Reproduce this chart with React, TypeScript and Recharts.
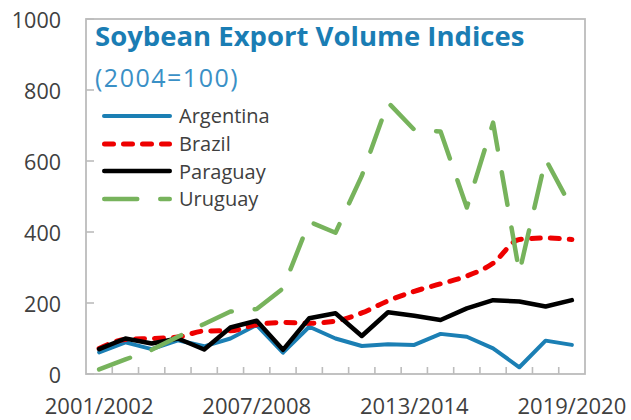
import { LineChart, Line, XAxis, YAxis } from "recharts";

const seasons = [
  "2001/2002", "2002/2003", "2003/2004", "2004/2005", "2005/2006", "2006/2007",
  "2007/2008", "2008/2009", "2009/2010", "2010/2011", "2011/2012", "2012/2013",
  "2013/2014", "2014/2015", "2015/2016", "2016/2017", "2017/2018", "2018/2019",
  "2019/2020",
];
const argentina = [61, 89, 70, 95, 78, 100, 138, 60, 133, 100, 79, 84, 82, 113, 105, 72, 19, 94, 82];
const brazil = [72, 97, 100, 104, 121, 122, 139, 145, 143, 149, 172, 206, 233, 254, 276, 312, 379, 383, 379];
const paraguay = [70, 100, 86, 100, 69, 131, 150, 68, 157, 171, 107, 174, 164, 152, 185, 208, 204, 190, 208];
const uruguay = [13, 41, 68, 105, 141, 176, 183, 241, 429, 398, 558, 765, 688, 683, 469, 708, 286, 605, 467];
const yTicks = [0, 200, 400, 600, 800, 1000];
const labelEvery = 6;

const data = seasons.map((season, i) => ({
  season,
  Argentina: argentina[i],
  Brazil: brazil[i],
  Paraguay: paraguay[i],
  Uruguay: uruguay[i],
}));

const FONT = "'Open Sans', 'Noto Sans', sans-serif";
const W = 631;
const H = 420;
const PLOT_LEFT = 86;
const PLOT_RIGHT = 585;
const PLOT_TOP = 19;
const PLOT_BOTTOM = 374;
const BAND = (PLOT_RIGHT - PLOT_LEFT) / seasons.length;
const TEXT = "#404040";
const BOX = "#bcbcbc";

const series = [
  { key: "Argentina", color: "#1b7fb4", width: 4, dash: undefined, smooth: false },
  { key: "Brazil", color: "#ee0000", width: 5, dash: "9 10", smooth: true },
  { key: "Paraguay", color: "#000000", width: 4.5, dash: undefined, smooth: false },
  { key: "Uruguay", color: "#77b35c", width: 4.5, dash: "33 23", smooth: false },
];

function XTick(props: any) {
  const { x, index, payload } = props;
  const edge = x - BAND / 2;
  return (
    <g>
      {index > 0 && (
        <path d={`M${edge},${PLOT_BOTTOM}V${PLOT_BOTTOM - 7}`} stroke={BOX} strokeWidth={1.6} fill="none" />
      )}
      {index % labelEvery === 0 && (
        <text x={x} y={PLOT_BOTTOM + 31} textAnchor="middle" dominantBaseline="central" fill={TEXT} fontSize={22} fontFamily={FONT}>
          {payload.value}
        </text>
      )}
    </g>
  );
}

function YTick(props: any) {
  const { y, payload } = props;
  return (
    <g>
      <path d={`M${PLOT_LEFT},${y}H${PLOT_LEFT + 8}`} stroke={BOX} strokeWidth={1.6} fill="none" />
      <text x={61} y={y} textAnchor="end" dominantBaseline="central" fill={TEXT} fontSize={21.5} fontFamily={FONT}>
        {payload.value}
      </text>
    </g>
  );
}

function LegendBox() {
  return (
    <div style={{ position: "absolute", left: 102, top: 102, fontFamily: FONT, fontSize: 20, color: TEXT }}>
      {series.map((s) => (
        <div key={s.key} style={{ display: "flex", alignItems: "center", height: 27.7 }}>
          <svg width={74} height={10} style={{ marginLeft: -2 }}>
            <line
              x1={2 + s.width / 2}
              x2={72 - s.width / 2}
              y1={5}
              y2={5}
              stroke={s.color}
              strokeWidth={s.width}
              strokeDasharray={s.dash}
              strokeLinecap="round"
            />
          </svg>
          <span style={{ marginLeft: 5 }}>{s.key}</span>
        </div>
      ))}
    </div>
  );
}

export default function App() {
  return (
    <div style={{ position: "absolute", left: 0, top: 0, width: W, height: H, background: "#fff" }}>
      {/* plot frame */}
      <svg width={W} height={H} style={{ position: "absolute", left: 0, top: 0 }}>
        <rect
          x={PLOT_LEFT}
          y={PLOT_TOP}
          width={PLOT_RIGHT - PLOT_LEFT}
          height={PLOT_BOTTOM - PLOT_TOP}
          fill="none"
          stroke={BOX}
          strokeWidth={1.8}
        />
      </svg>
      <div style={{ position: "absolute", left: 0, top: 0 }}>
        <LineChart
          width={W}
          height={H}
          data={data}
          margin={{ top: PLOT_TOP, right: W - PLOT_RIGHT, left: 0, bottom: 0 }}
        >
          <XAxis
            dataKey="season"
            interval={0}
            height={H - PLOT_BOTTOM}
            padding={{ left: BAND / 2, right: BAND / 2 }}
            axisLine={false}
            tickLine={false}
            tick={<XTick />}
          />
          <YAxis
            domain={[0, 1000]}
            ticks={yTicks}
            width={PLOT_LEFT}
            axisLine={false}
            tickLine={false}
            tick={<YTick />}
          />
          {series.map((s) => (
            <Line
              key={s.key}
              dataKey={s.key}
              type={s.smooth ? "monotone" : "linear"}
              stroke={s.color}
              strokeWidth={s.width}
              strokeDasharray={s.dash}
              strokeLinecap="round"
              strokeLinejoin="round"
              dot={false}
              activeDot={false}
              isAnimationActive={false}
            />
          ))}
        </LineChart>
      </div>
      <div
        style={{
          position: "absolute",
          left: 95,
          top: 20,
          fontFamily: FONT,
          fontWeight: 700,
          fontSize: 27.5,
          color: "#1a7db4",
          whiteSpace: "nowrap",
          lineHeight: "32px",
        }}
      >
        Soybean Export Volume Indices
      </div>
      <div
        style={{
          position: "absolute",
          left: 95,
          top: 60,
          fontFamily: FONT,
          fontSize: 25,
          letterSpacing: 1.5,
          color: "#3a90c6",
          whiteSpace: "nowrap",
          lineHeight: "34px",
        }}
      >
        (2004=100)
      </div>
      <LegendBox />
    </div>
  );
}
